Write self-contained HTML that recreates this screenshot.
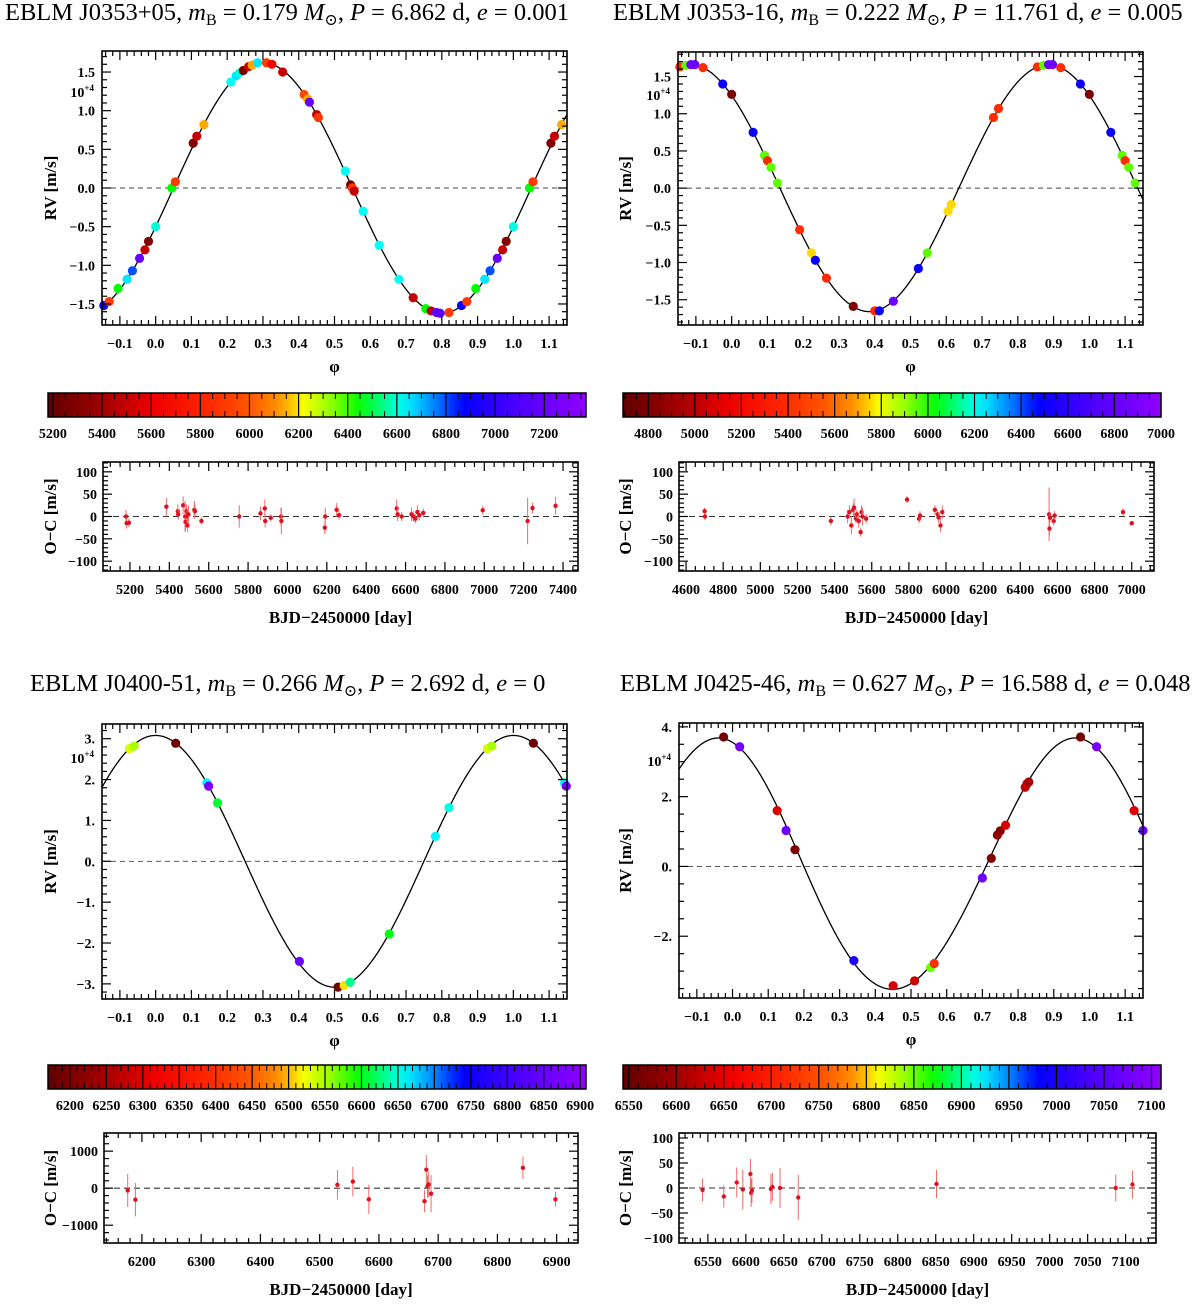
<!DOCTYPE html>
<html><head><meta charset="utf-8">
<style>
html,body{margin:0;padding:0;background:#fff;}
svg{display:block;font-family:"Liberation Serif","DejaVu Serif",serif;}
.tl{font-size:14px;font-weight:bold;}
.ax{font-size:17px;font-weight:bold;}
.tt{font-size:24.5px;}
</style></head>
<body>
<svg id="fig" width="1200" height="1307" viewBox="0 0 1200 1307" xmlns="http://www.w3.org/2000/svg">
<defs></defs>
<text class="tt" x="5" y="20">EBLM J0353+05, <tspan font-style="italic">m</tspan><tspan font-size="16" dy="5">B</tspan><tspan dy="-5"> = 0.179 </tspan><tspan font-style="italic">M</tspan><tspan font-size="16" dy="5">⊙</tspan><tspan dy="-5">, </tspan><tspan font-style="italic">P</tspan> = 6.862 d, <tspan font-style="italic">e</tspan> = 0.001</text>
<text class="tt" x="613" y="20">EBLM J0353-16, <tspan font-style="italic">m</tspan><tspan font-size="16" dy="5">B</tspan><tspan dy="-5"> = 0.222 </tspan><tspan font-style="italic">M</tspan><tspan font-size="16" dy="5">⊙</tspan><tspan dy="-5">, </tspan><tspan font-style="italic">P</tspan> = 11.761 d, <tspan font-style="italic">e</tspan> = 0.005</text>
<text class="tt" x="30" y="691">EBLM J0400-51, <tspan font-style="italic">m</tspan><tspan font-size="16" dy="5">B</tspan><tspan dy="-5"> = 0.266 </tspan><tspan font-style="italic">M</tspan><tspan font-size="16" dy="5">⊙</tspan><tspan dy="-5">, </tspan><tspan font-style="italic">P</tspan> = 2.692 d, <tspan font-style="italic">e</tspan> = 0</text>
<text class="tt" x="620" y="691">EBLM J0425-46, <tspan font-style="italic">m</tspan><tspan font-size="16" dy="5">B</tspan><tspan dy="-5"> = 0.627 </tspan><tspan font-style="italic">M</tspan><tspan font-size="16" dy="5">⊙</tspan><tspan dy="-5">, </tspan><tspan font-style="italic">P</tspan> = 16.588 d, <tspan font-style="italic">e</tspan> = 0.048</text>
</svg>
<script>
// ---------- data: panel 1 ----------
const PH1=[0.000,0.045,0.055,0.105,0.115,0.135,0.210,0.225,0.235,0.245,0.260,0.270,0.285,0.310,0.325,0.355,0.415,0.425,0.430,0.450,0.455,0.530,0.545,0.550,0.555,0.580,0.625,0.680,0.720,0.755,0.770,0.785,0.795,0.820,0.855,0.870,0.895,0.920,0.935,0.955,0.970,0.980];
const RV1=[-0.50,0.00,0.08,0.58,0.67,0.82,1.37,1.45,1.49,1.52,1.57,1.59,1.62,1.62,1.60,1.50,1.21,1.15,1.11,0.95,0.91,0.22,0.04,0.00,-0.04,-0.30,-0.74,-1.18,-1.42,-1.56,-1.59,-1.61,-1.62,-1.61,-1.52,-1.47,-1.30,-1.18,-1.07,-0.91,-0.80,-0.69];
const COL1=[6600,6450,5900,5300,5500,6150,6620,6650,6600,5280,5500,6150,6650,5900,5650,5500,5950,6150,7200,5500,5900,6620,5300,5900,5500,6620,6620,6620,5500,6450,5500,7200,7150,5900,6900,5900,6450,6650,6800,7200,5500,5300];
const BJD1=[5180,5183,5195,5385,5443,5445,5470,5480,5482,5487,5490,5492,5497,5527,5530,5563,5755,5863,5885,5887,5915,5967,5969,6190,6192,6250,6262,6555,6560,6580,6630,6640,6650,6660,6670,6690,6992,7220,7245,7362];
const OC1=[0,-15,-14,22,12,5,25,0,-12,12,0,-20,5,15,12,-10,0,7,18,-10,-3,0,-10,-25,0,15,3,18,5,0,5,0,-5,10,3,8,14,-10,19,24];
const ERR1=[15,12,10,20,15,12,20,35,20,15,15,15,20,20,15,8,25,15,20,15,8,20,30,15,20,15,10,20,15,10,15,12,10,15,12,10,10,52,12,20];
// ---------- data: panel 2 ----------
const PH2=[0.000,0.975,0.060,0.092,0.100,0.110,0.128,0.190,0.223,0.234,0.265,0.340,0.400,0.413,0.452,0.522,0.547,0.605,0.614,0.732,0.746,0.855,0.872,0.886,0.897,0.920];
const RV2=[1.26,1.40,0.75,0.44,0.37,0.28,0.07,-0.56,-0.87,-0.97,-1.21,-1.59,-1.65,-1.65,-1.52,-1.08,-0.87,-0.31,-0.22,0.95,1.07,1.63,1.65,1.66,1.66,1.62];
const COL2=[4800,6500,6500,5950,5400,5950,5950,5400,5750,6500,5400,4800,5400,6500,6850,6500,5950,5750,5750,5400,5400,5400,5950,6850,6850,5400];
const BJD2=[4700,4702,5380,5470,5480,5490,5500,5505,5515,5520,5530,5540,5545,5550,5570,5790,5855,5860,5940,5955,5960,5970,5980,6555,6557,6560,6580,6585,6953,7000];
const OC2=[12,0,-10,0,10,-20,15,20,-5,5,-10,-35,10,0,-5,38,-5,2,15,5,-2,-20,10,5,-27,-3,-10,2,10,-15];
const ERR2=[8,8,10,15,15,20,15,20,10,10,15,10,15,20,10,8,10,10,10,10,12,15,15,60,15,10,10,10,8,5];
// ---------- data: panel 3 ----------
const PH3=[0.927,0.940,0.056,0.143,0.148,0.173,0.402,0.510,0.527,0.544,0.653,0.782,0.820];
const RV3=[2.76,2.82,2.89,1.92,1.84,1.43,-2.45,-3.08,-3.04,-2.96,-1.78,0.61,1.31];
const COL3=[6530,6550,6190,6660,6880,6610,6860,6190,6510,6630,6600,6660,6650];
const BJD3=[6176,6189,6530,6556,6583,6677,6680,6682,6684,6688,6843,6898];
const OC3=[-60,-310,90,180,-300,-350,500,50,100,-150,550,-300];
const ERR3=[450,450,400,400,400,300,400,300,350,500,300,200];
// ---------- data: panel 4 ----------
const PH4=[0.975,0.020,0.125,0.150,0.175,0.340,0.450,0.510,0.555,0.565,0.700,0.725,0.742,0.750,0.765,0.820,0.825,0.830];
const RV4=[3.71,3.43,1.60,1.03,0.48,-2.70,-3.42,-3.28,-2.90,-2.78,-0.33,0.23,0.90,1.02,1.18,2.27,2.37,2.42];
const COL4=[6560,7080,6640,7070,6570,7000,6640,6630,6850,6720,7070,6580,6590,6580,6640,6620,6630,6600];
const BJD4=[6543,6571,6588,6596,6606,6607,6608,6633,6635,6645,6669,6851,7087,7109];
const OC4=[-4,-17,11,-3,28,-10,-5,-2,2,0,-19,8,0,7];
const ERR4=[23,22,30,40,30,28,25,30,28,40,45,28,27,28];

const NS="http://www.w3.org/2000/svg";
const svg=document.getElementById('fig');
function mk(tag,at,parent){const e=document.createElementNS(NS,tag);for(const k in at)e.setAttribute(k,at[k]);(parent||svg).appendChild(e);return e;}
const STOPS=[[0,[96,0,0]],[0.1,[160,0,0]],[0.2,[240,0,0]],[0.3,[255,40,0]],[0.38,[255,90,0]],[0.44,[255,160,0]],[0.47,[255,255,0]],[0.52,[160,255,0]],[0.58,[0,255,0]],[0.66,[0,255,255]],[0.72,[0,128,255]],[0.77,[0,0,255]],[0.86,[70,0,255]],[1,[145,0,255]]];
function cmap(f){f=Math.max(0,Math.min(1,f));for(let i=1;i<STOPS.length;i++){if(f<=STOPS[i][0]){const a=STOPS[i-1],b=STOPS[i],t=(f-a[0])/(b[0]-a[0]);const c=a[1].map((v,j)=>Math.round(v+(b[1][j]-v)*t));return 'rgb('+c.join(',')+')';}}return 'rgb(145,0,255)';}
function fmtMinus(s){return String(s).replace('-','\u2212');}

function frameTicks(g,x0,x1,y0,y1,sx,sy,xr,yr){
  mk('rect',{x:x0,y:y0,width:x1-x0,height:y1-y0,fill:'none',stroke:'#000','stroke-width':1.6},g);
  const xt=(v,len)=>{const X=sx(v);mk('line',{x1:X,y1:y1,x2:X,y2:y1-len,stroke:'#000','stroke-width':1.2},g);mk('line',{x1:X,y1:y0,x2:X,y2:y0+len,stroke:'#000','stroke-width':1.2},g);};
  const yt=(v,len)=>{const Y=sy(v);mk('line',{x1:x0,y1:Y,x2:x0+len,y2:Y,stroke:'#000','stroke-width':1.2},g);mk('line',{x1:x1,y1:Y,x2:x1-len,y2:Y,stroke:'#000','stroke-width':1.2},g);};
  for(let i=Math.ceil(xr.min/xr.minStep-1e-6);i*xr.minStep<=xr.max+1e-9;i++){const v=i*xr.minStep;const isMaj=Math.abs(v/xr.maj-Math.round(v/xr.maj))<1e-6;xt(v,isMaj?9:5);}
  for(let i=Math.ceil(yr.min/yr.minStep-1e-6);i*yr.minStep<=yr.max+1e-9;i++){const v=i*yr.minStep;const isMaj=Math.abs(v/yr.maj-Math.round(v/yr.maj))<1e-6;yt(v,isMaj?9:5);}
}

function rvPanel(c){
  const g=mk('g',{});
  
  
  const sx=v=>c.x0+(v-(-0.15))/(1.3)*(c.x1-c.x0);
  const sy=v=>c.y1-(v-c.ymin)/(c.ymax-c.ymin)*(c.y1-c.y0);
  const z=mk('line',{x1:c.x0,y1:sy(0),x2:c.x1,y2:sy(0),stroke:'#444','stroke-width':0.9,'stroke-dasharray':'5,4'},g);
  
  
  let d='';for(let i=0;i<=600;i++){const p=-0.15+1.3*i/600;let y=sy(c.model(p));y=Math.max(c.y0,Math.min(c.y1,y));d+=(i?'L':'M')+sx(p).toFixed(2)+','+y.toFixed(2);}
  const cu=mk('path',{d:d,fill:'none',stroke:'#000','stroke-width':1.3},g);
  
  
  for(let i=0;i<c.ph.length;i++){
    for(const sh of [-1,0,1]){const p=c.ph[i]+sh;if(p<-0.15||p>1.15)continue;
      const pt=mk('circle',{cx:sx(p),cy:sy(c.rv[i]),r:4.6,fill:cmap((c.col[i]-c.cmin)/(c.cmax-c.cmin))},g);
      
      }
  }
  frameTicks(g,c.x0,c.x1,c.y0,c.y1,sx,sy,{min:-0.15,max:1.15,maj:0.1,minStep:0.02},{min:c.ymin,max:c.ymax,maj:c.ymaj,minStep:c.yminor});
  for(let k=-1;k<=11;k++){const v=k/10;const t=mk('text',{x:sx(v),y:c.y1+23,'text-anchor':'middle',class:'tl'},g);t.textContent=fmtMinus(v.toFixed(1));
    
    }
  for(const v of c.ylabels){const t=mk('text',{x:c.x0-7,y:sy(v)+5,'text-anchor':'end',class:'tl'},g);t.textContent=fmtMinus(c.yfmt(v));
    
    }
  const e=mk('text',{x:c.x0-8,y:c.expY,'text-anchor':'end',class:'tl','font-size':13},g);e.innerHTML='10<tspan dy="-6" font-size="9">+4</tspan>';
  
  
  const yl=mk('text',{x:0,y:0,transform:'translate('+c.ylx+','+((c.y0+c.y1)/2)+') rotate(-90)','text-anchor':'middle',class:'ax'},g);yl.textContent='RV [m/s]';
  
  
  const xl=mk('text',{x:(c.x0+c.x1)/2,y:c.y1+47,'text-anchor':'middle',class:'ax','font-weight':'normal'},g);xl.textContent='\u03c6';
  
  
}

function colorbar(c){
  const g=mk('g',{});
  
  
  const id='grad-'+c.name;
  const lg=mk('linearGradient',{id:id,x1:0,x2:1,y1:0,y2:0},svg.querySelector('defs'));
  for(let i=0;i<=40;i++){mk('stop',{offset:(i/40),'stop-color':cmap(i/40)},lg);}
  mk('rect',{x:c.x0,y:c.y0,width:c.x1-c.x0,height:c.y1-c.y0,fill:'url(#'+id+')'},g);
  const sx=v=>c.x0+(v-c.min)/(c.max-c.min)*(c.x1-c.x0);
  for(let v=Math.ceil(c.min/c.minor)*c.minor;v<=c.max;v+=c.minor){const X=sx(v);
    if(v%c.maj===0){mk('line',{x1:X,y1:c.y0,x2:X,y2:c.y1,stroke:'#000','stroke-width':1.2},g);}
    else{mk('line',{x1:X,y1:c.y0,x2:X,y2:c.y0+6,stroke:'#000','stroke-width':1},g);mk('line',{x1:X,y1:c.y1,x2:X,y2:c.y1-6,stroke:'#000','stroke-width':1},g);}}
  mk('rect',{x:c.x0,y:c.y0,width:c.x1-c.x0,height:c.y1-c.y0,fill:'none',stroke:'#000','stroke-width':1.5},g);
  for(let v=Math.ceil(c.min/c.maj)*c.maj;v<=c.max+0.5;v+=c.maj){const t=mk('text',{x:sx(v),y:c.y1+21,'text-anchor':'middle',class:'tl'},g);t.textContent=v;
    
    }
}

function ocPanel(c){
  const g=mk('g',{});
  
  
  const sx=v=>c.x0+(v-c.xmin)/(c.xmax-c.xmin)*(c.x1-c.x0);
  const sy=v=>c.y1-(v-c.ymin)/(c.ymax-c.ymin)*(c.y1-c.y0);
  const z=mk('line',{x1:c.x0,y1:sy(0),x2:c.x1,y2:sy(0),stroke:'#333','stroke-width':1.1,'stroke-dasharray':'6,4'},g);
  
  
  for(let i=0;i<c.bjd.length;i++){
    const X=sx(c.bjd[i]);
    const eb=mk('line',{x1:X,y1:Math.max(c.y0,sy(c.oc[i]+c.err[i])),x2:X,y2:Math.min(c.y1,sy(c.oc[i]-c.err[i])),stroke:'#f06a6a','stroke-width':1},g);
    
    
    const pt=mk('circle',{cx:X,cy:sy(c.oc[i]),r:2.2,fill:'#e01020'},g);
    
    
  }
  frameTicks(g,c.x0,c.x1,c.y0,c.y1,sx,sy,{min:c.xmin,max:c.xmax,maj:c.xmaj,minStep:c.xminor},{min:c.ymin,max:c.ymax,maj:c.ymaj,minStep:c.yminor});
  for(let v=Math.ceil(c.xmin/c.xmaj)*c.xmaj;v<=c.xmax;v+=c.xmaj){const t=mk('text',{x:sx(v),y:c.y1+23,'text-anchor':'middle',class:'tl'},g);t.textContent=v;
    
    }
  for(const v of c.ylabels){const t=mk('text',{x:c.x0-6,y:sy(v)+5,'text-anchor':'end',class:'tl'},g);t.textContent=fmtMinus(v);
    
    }
  const yl=mk('text',{x:0,y:0,transform:'translate('+c.ylx+','+((c.y0+c.y1)/2)+') rotate(-90)','text-anchor':'middle',class:'ax'},g);yl.textContent='O\u2212C [m/s]';
  
  
  const xl=mk('text',{x:(c.x0+c.x1)/2,y:c.y1+52,'text-anchor':'middle',class:'ax'},g);xl.textContent='BJD\u22122450000 [day]';
  
  
}

const TAU=2*Math.PI;
rvPanel({name:'j0353-05',x0:102,x1:567,y0:51,y1:325,ymin:-1.772,ymax:1.772,ymaj:0.5,yminor:0.1,ylabels:[-1.5,-1,-0.5,0,0.5,1,1.5],yfmt:v=>v.toFixed(1),expY:97,ylx:56,
  model:p=>1.62*Math.sin(TAU*(p-0.05)),ph:PH1,rv:RV1,col:COL1,cmin:5180,cmax:7370});
rvPanel({name:'j0353-16',x0:678,x1:1143,y0:52,y1:325,ymin:-1.84,ymax:1.83,ymaj:0.5,yminor:0.1,ylabels:[-1.5,-1,-0.5,0,0.5,1,1.5],yfmt:v=>v.toFixed(1),expY:100,ylx:631,
  model:p=>1.66*Math.sin(TAU*(p-0.635)),ph:PH2,rv:RV2,col:COL2,cmin:4692,cmax:7000});
rvPanel({name:'j0400-51',x0:102,x1:567,y0:724,y1:999,ymin:-3.37,ymax:3.36,ymaj:1,yminor:0.2,ylabels:[-3,-2,-1,0,1,2,3],yfmt:v=>v+'.',expY:763,ylx:56,
  model:p=>3.08*Math.cos(TAU*p),ph:PH3,rv:RV3,col:COL3,cmin:6170,cmax:6908});
rvPanel({name:'j0425-46',x0:679,x1:1143,y0:723,y1:998,ymin:-3.77,ymax:4.11,ymaj:2,yminor:0.5,ylabels:[-2,0,2,4],yfmt:v=>v+'.',expY:766,ylx:631,
  model:p=>{const th=TAU*(p+0.035)+0.065+0.065*Math.cos(TAU*(p-0.3));return 0.08+3.6*Math.cos(th);},ph:PH4,rv:RV4,col:COL4,cmin:6544,cmax:7110});

colorbar({name:'j0353-05',x0:48,x1:586,y0:393,y1:417,min:5180,max:7370,maj:200,minor:50});
colorbar({name:'j0353-16',x0:623,x1:1161,y0:393,y1:417,min:4692,max:7000,maj:200,minor:50});
colorbar({name:'j0400-51',x0:48,x1:586,y0:1065,y1:1089,min:6170,max:6908,maj:50,minor:10});
colorbar({name:'j0425-46',x0:623,x1:1161,y0:1065,y1:1089,min:6544,max:7110,maj:50,minor:10});

ocPanel({name:'j0353-05',x0:103,x1:578,y0:462,y1:571,xmin:5063,xmax:7476,xmaj:200,xminor:50,ymin:-122,ymax:122,ymaj:50,yminor:10,ylabels:[-100,-50,0,50,100],ylx:56,bjd:BJD1,oc:OC1,err:ERR1});
ocPanel({name:'j0353-16',x0:679,x1:1154,y0:462,y1:571,xmin:4562,xmax:7120,xmaj:200,xminor:50,ymin:-122,ymax:122,ymaj:50,yminor:10,ylabels:[-100,-50,0,50,100],ylx:631,bjd:BJD2,oc:OC2,err:ERR2});
ocPanel({name:'j0400-51',x0:104,x1:578,y0:1133,y1:1243,xmin:6136,xmax:6936,xmaj:100,xminor:20,ymin:-1480,ymax:1490,ymaj:1000,yminor:200,ylabels:[-1000,0,1000],ylx:56,bjd:BJD3,oc:OC3,err:ERR3});
ocPanel({name:'j0425-46',x0:679,x1:1156,y0:1133,y1:1243,xmin:6512,xmax:7140,xmaj:50,xminor:10,ymin:-110,ymax:110,ymaj:50,yminor:10,ylabels:[-100,-50,0,50,100],ylx:631,bjd:BJD4,oc:OC4,err:ERR4});
</script>
</body></html>
